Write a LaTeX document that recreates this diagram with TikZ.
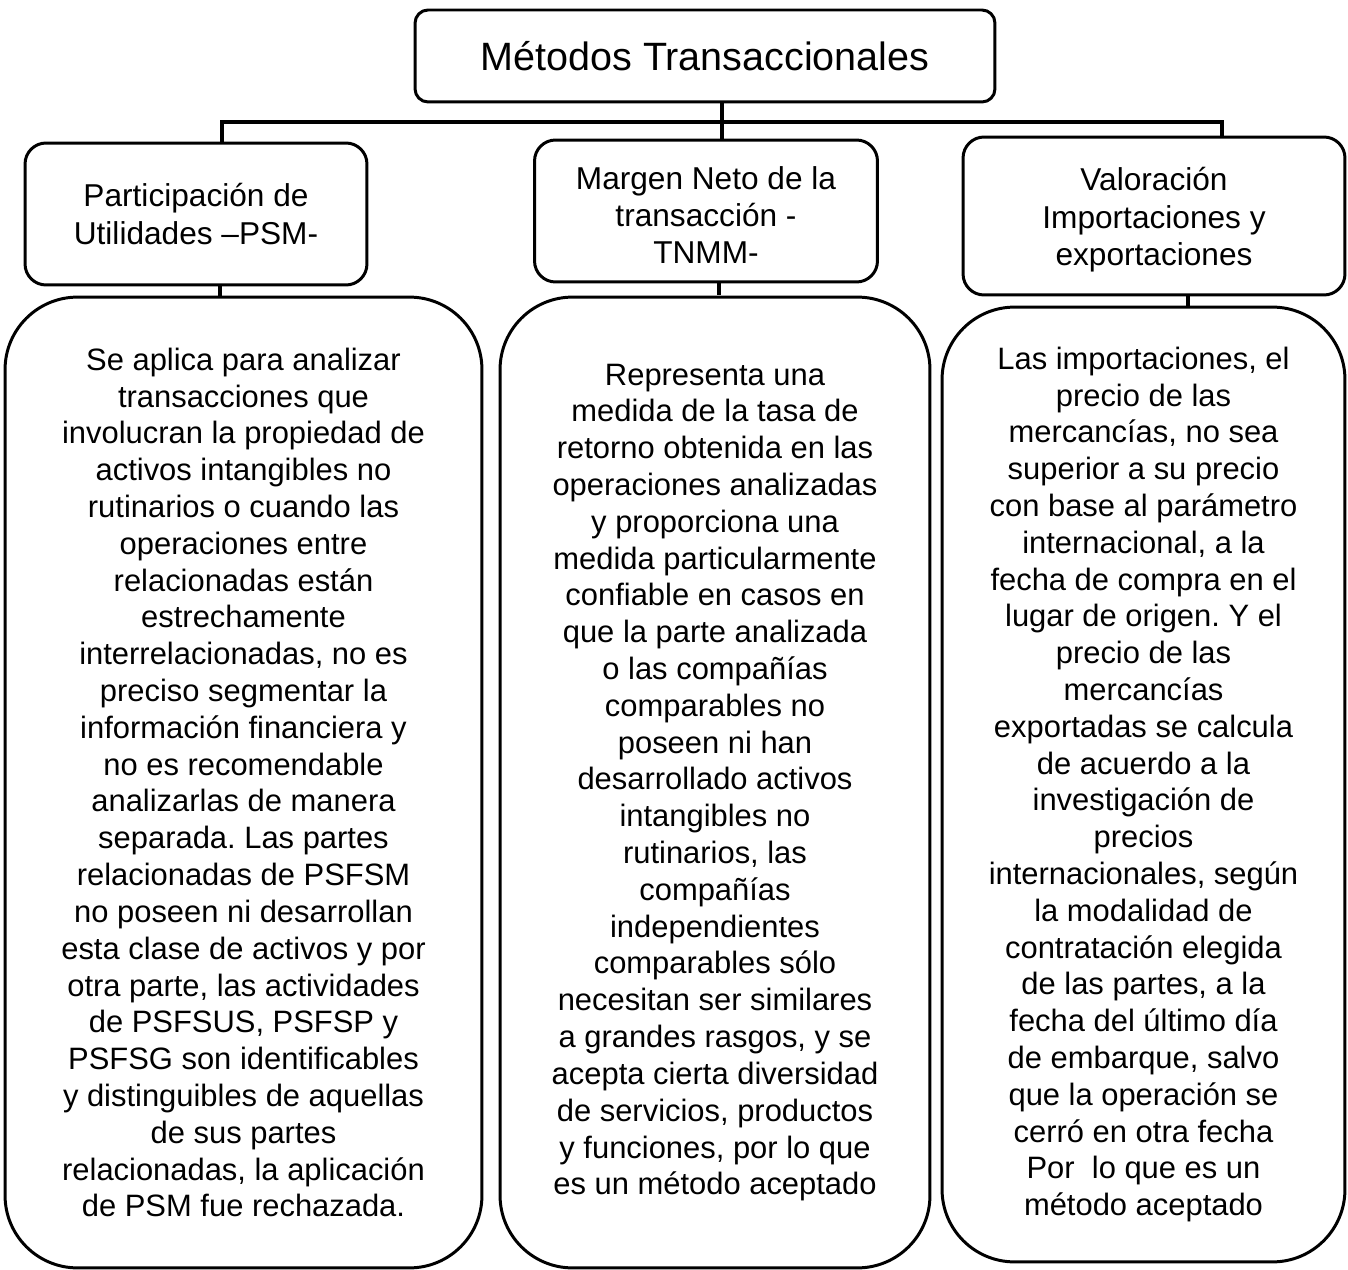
\documentclass[tikz,border=0pt]{standalone}
\usepackage{fontspec}
\setmainfont{Liberation Sans}
\frenchspacing
\usetikzlibrary{positioning,calc}
\tikzset{
  titlebox/.style={draw,rounded corners=.26cm,line width=1.7pt,inner sep=0pt,
    align=center,font=\fontsize{22.5}{27}\selectfont},
  headbox/.style={draw,rounded corners=.42cm,line width=1.7pt,inner sep=0pt,
    align=center,font=\fontsize{18}{21.2}\selectfont},
  descbox/.style={draw,rounded corners=1.45cm,line width=1.7pt,inner sep=0pt,
    align=center,font=\fontsize{17.6}{20.95}\selectfont},
  link/.style={draw,line width=1.9pt}
}
\newcommand\lowfirst{\rule{0pt}{17.6pt}}
\begin{document}
\begin{tikzpicture}[x=0.02cm,y=-0.02cm]
    \useasboundingbox (0,0) rectangle (1348,1270);
    % title and the three methods
    \node[titlebox,minimum width=11.6cm,minimum height=1.84cm] (title) at (705,56) {Métodos Transaccionales};
    \node[headbox,minimum width=6.84cm,minimum height=2.84cm] (psm) at (196,214) {Participación de\\Utilidades –PSM-};
    \node[headbox,minimum width=6.86cm,minimum height=2.84cm] (tnmm) at (706,211) {\lowfirst Margen Neto de la\\transacción -\\TNMM-};
    \node[headbox,minimum width=7.64cm,minimum height=3.16cm] (valor) at (1154,216) {\lowfirst Valoración\\Importaciones y\\exportaciones};

    % descriptions
    \node[descbox,minimum width=9.54cm,minimum height=19.42cm] (psmtxt) at (243.5,782.5) {Se aplica para analizar\\transacciones que\\involucran la propiedad de\\activos intangibles no\\rutinarios o cuando las\\operaciones entre\\relacionadas están\\estrechamente\\interrelacionadas, no es\\preciso segmentar la\\información financiera y\\no es recomendable\\analizarlas de manera\\separada. Las partes\\relacionadas de PSFSM\\no poseen ni desarrollan\\esta clase de activos y por\\otra parte, las actividades\\de PSFSUS, PSFSP y\\PSFSG son identificables\\y distinguibles de aquellas\\de sus partes\\relacionadas, la aplicación\\de PSM fue rechazada.};
    \node[descbox,minimum width=8.6cm,minimum height=19.42cm] (tnmmtxt) at (715,782.5) {Representa una\\medida de la tasa de\\retorno obtenida en las\\operaciones analizadas\\y proporciona una\\medida particularmente\\confiable en casos en\\que la parte analizada\\o las compañías\\comparables no\\poseen ni han\\desarrollado activos\\intangibles no\\rutinarios, las\\compañías\\independientes\\comparables sólo\\necesitan ser similares\\a grandes rasgos, y se\\acepta cierta diversidad\\de servicios, productos\\y funciones, por lo que\\es un método aceptado};
    \node[descbox,minimum width=8.06cm,minimum height=19.1cm] (valortxt) at (1143.5,784.5) {Las importaciones, el\\precio de las\\mercancías, no sea\\superior a su precio\\con base al parámetro\\internacional, a la\\fecha de compra en el\\lugar de origen. Y el\\precio de las\\mercancías\\exportadas se calcula\\de acuerdo a la\\investigación de\\precios\\internacionales, según\\la modalidad de\\contratación elegida\\de las partes, a la\\fecha del último día\\de embarque, salvo\\que la operación se\\cerró en otra fecha\\Por\ \ lo que es un\\método aceptado};

    % tree lines
    \coordinate (busL) at (222,122);
    \coordinate (busM) at (722,122);
    \coordinate (busR) at (1222,122);
    \draw[link] (title.south -| busM) -- (busM);
    \draw[link] (busL |- psm.north) -- (busL) -- (busR) -- (busR |- valor.north);
    \draw[link] (busM) -- (busM |- tnmm.north);
    \draw[link] ($(psm.south)+(24,0)$) -- (psmtxt.north -| {$(psm.south)+(24,0)$});
    \draw[link] ($(tnmm.south)+(13,0)$) -- ++(0,12);
    \draw[link] ($(valor.south)+(34,0)$) -- ++(0,11);
\end{tikzpicture}
\end{document}
